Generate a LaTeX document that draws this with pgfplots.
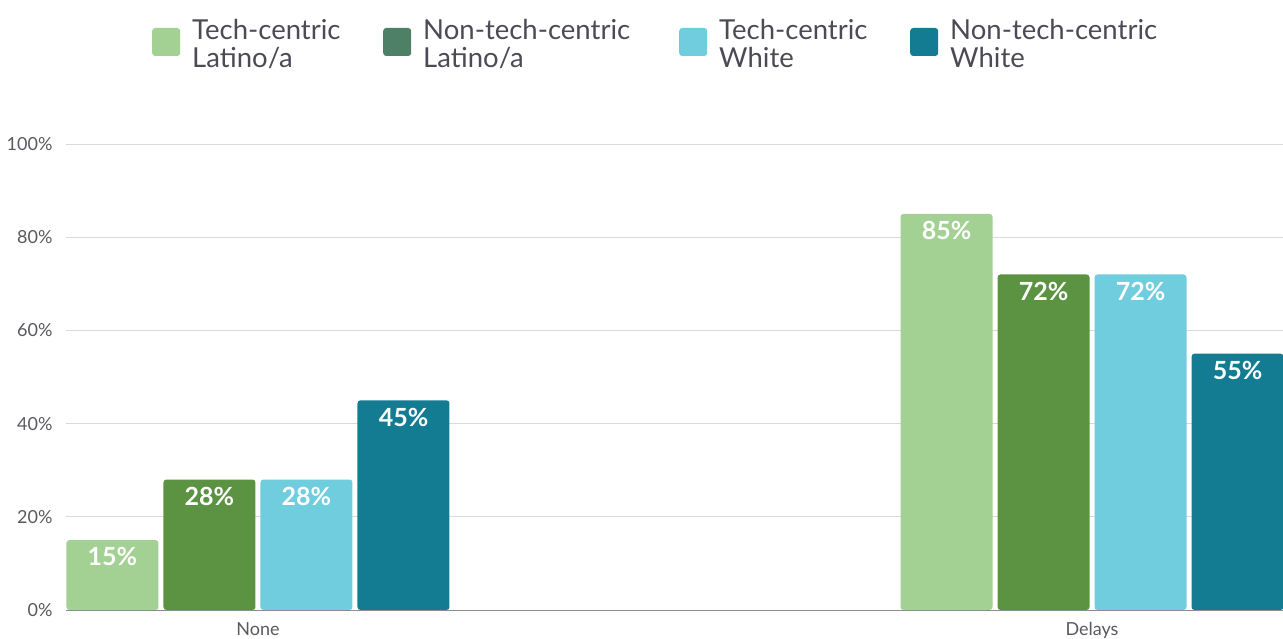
\documentclass[border=0pt]{standalone}
\usepackage{pgfplots}
\pgfplotsset{compat=1.18}
\usepackage{fontspec}
\setmainfont{Lato}
\definecolor{c1}{HTML}{A2D193}
\definecolor{c2}{HTML}{5B9342}
\definecolor{c2leg}{HTML}{4E8068}
\definecolor{c3}{HTML}{70CDDD}
\definecolor{c4}{HTML}{137C92}
\definecolor{ticktext}{HTML}{595960}
\definecolor{legtext}{HTML}{4D4A55}
\definecolor{gridc}{HTML}{D9D9D9}
\newcommand{\lentry}[3]{\makebox[#1][l]{\raisebox{10bp}{\begin{tabular}{@{}l@{}}#2\\#3\end{tabular}}}}
\begin{document}
\begin{tikzpicture}
\useasboundingbox (0,0) rectangle (1283bp,639bp);
\begin{axis}[
  at={(66bp,29bp)}, anchor=south west,
  scale only axis, width=1217bp, height=466bp,
  xmin=-0.2302, xmax=1.229, ymin=0, ymax=100,
  enlargelimits=false,
  ybar, bar width=92bp,
  axis lines*=left,
  x axis line style={draw=black!45, line width=0.8bp},
  y axis line style={draw=none},
  major tick length=0pt,
  ymajorgrids, grid style={color=gridc, line width=0.8bp},
  ytick={0,20,40,60,80,100},
  yticklabels={0\%,20\%,40\%,60\%,80\%,100\%},
  xtick={0,1}, xticklabels={None,Delays},
  ticklabel style={font=\fontsize{18bp}{18bp}\selectfont, text=ticktext},
  yticklabel style={xshift=-10bp},
  xticklabel style={yshift=-9bp},
  nodes near coords={\pgfmathprintnumber[assume math mode=true]{\pgfplotspointmeta}\%},
  nodes near coords align={anchor=north, yshift=-4bp},
  every node near coord/.append style={font=\bfseries\fontsize{25bp}{25bp}\selectfont, text=white},
  every axis plot/.append style={draw=none, rounded corners=3bp},
  legend image code/.code={\fill[#1] (0bp,-14bp) rectangle (28bp,14bp);},
  legend columns=4,
  legend cell align=left,
  legend style={draw=none, fill=none, inner sep=0pt,
    at={(axis description cs:0.0707,1.2189)}, anchor=west,
    font=\fontsize{27.5bp}{26bp}\selectfont, text=legtext,
    nodes={inner sep=0pt},
    /tikz/every odd column/.append style={column sep=12bp}},
]
\addplot[fill=c1, bar shift=-145.5bp, forget plot] coordinates {(0,15) (1,85)};
\addplot[fill=c2, bar shift=-48.5bp, forget plot] coordinates {(0,28) (1,72)};
\addplot[fill=c3, bar shift=48.5bp, forget plot] coordinates {(0,28) (1,72)};
\addplot[fill=c4, bar shift=145.5bp, forget plot] coordinates {(0,45) (1,55)};
\addlegendimage{c1}
\addlegendentry{\lentry{191bp}{Tech-centric}{Latino/a}}
\addlegendimage{c2leg}
\addlegendentry{\lentry{256bp}{Non-tech-centric}{Latino/a}}
\addlegendimage{c3}
\addlegendentry{\lentry{191bp}{Tech-centric}{White}}
\addlegendimage{c4}
\addlegendentry{\lentry{200bp}{Non-tech-centric}{White}}
\end{axis}
\end{tikzpicture}
\end{document}
